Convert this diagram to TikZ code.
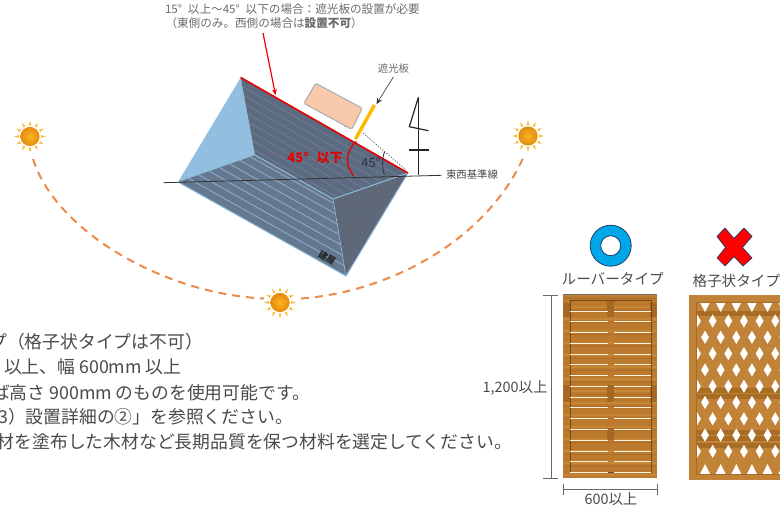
\documentclass[tikz,border=0pt]{standalone}
\usepackage{fontspec}
\setmainfont{Noto Sans CJK JP}
\usetikzlibrary{arrows.meta}
\definecolor{bodytxt}{HTML}{4A4A4A}
\definecolor{graytxt}{HTML}{6A6A6A}
\definecolor{hipblue}{HTML}{92BEDF}
\definecolor{edgeblue}{HTML}{8FBCDD}
\definecolor{topface}{HTML}{5D6B80}
\definecolor{topstripe}{HTML}{6F7E93}
\definecolor{botface}{HTML}{64788F}
\definecolor{botstripe}{HTML}{8FACC8}
\definecolor{rightface}{HTML}{5C6676}
\definecolor{rightstripe}{HTML}{667182}
\definecolor{arcorange}{HTML}{EB8A4A}
\definecolor{woodbase}{HTML}{BC7A2E}
\definecolor{woodlight}{HTML}{C58638}
\definecolor{wooddark}{HTML}{A0621F}
\definecolor{latbase}{HTML}{C08338}
\definecolor{latdark}{HTML}{A96C27}
\definecolor{slat}{HTML}{FBF3DC}
\definecolor{ringblue}{HTML}{00A7E8}
\definecolor{iconedge}{HTML}{1F3F6E}
\definecolor{dimgray}{HTML}{666666}
\definecolor{panelpeach}{HTML}{F9C9AB}
\definecolor{boardyellow}{HTML}{FFB800}
\definecolor{anglegray}{HTML}{2C323C}
\definecolor{suny}{HTML}{F7B521}
\definecolor{sund}{HTML}{E88A0C}
\tikzset{
  x=1pt,y=-1pt,
  tag/.style={inner sep=0pt,outer sep=0pt,text=graytxt},
  bodyline/.style={inner sep=0pt,outer sep=0pt,anchor=east,text=bodytxt,font=\fontsize{17.8}{20}\selectfont},
  small/.style={font=\fontsize{10.4}{12}\selectfont},
  note/.style={font=\fontsize{11.6}{13}\selectfont},
  dimtxt/.style={inner sep=0pt,outer sep=0pt,text=bodytxt,font=\fontsize{14.4}{16}\selectfont},
  typetxt/.style={inner sep=0pt,outer sep=0pt,text=bodytxt,font=\fontsize{14.6}{16}\selectfont},
  sunarc/.style={arcorange,line width=2pt,dash pattern=on 8pt off 6pt},
  dimline/.style={dimgray,line width=0.8pt},
  pics/sunicon/.style={code={
    \foreach \r in {0,30,...,330}{
      \fill[suny!85!white,rotate=\r] (11.2,-1.5) -- (15.8,0) -- (11.2,1.5) -- cycle;
    }
    \shade[inner color=suny,outer color=sund,draw=none] (0,0) circle (9.6);
  }},
}
\begin{document}
\begin{tikzpicture}
\useasboundingbox (0,0) rectangle (780,509);
\clip (0,0) rectangle (780,509);
% named corners of the roof
\coordinate (A) at (240.7,77.5);
\coordinate (B) at (408,173);
\coordinate (C) at (346,276);
\coordinate (D) at (178,182);
\coordinate (E) at (255,155);
\coordinate (F) at (333,199);
% faces
\fill[hipblue] (A) -- (D) -- (E) -- cycle;
\begin{scope}
  \clip (A) -- (B) -- (F) -- (E) -- cycle;
  \fill[topface] (A) -- (B) -- (F) -- (E) -- cycle;
  \foreach \k in {0,...,18}{
    \draw[topstripe,line width=0.8pt] ({140-0.497*7*\k},{20+0.868*7*\k}) -- ++(400,228.7);
  }
\end{scope}
\begin{scope}
  \clip (D) -- (E) -- (F) -- (C) -- cycle;
  \fill[botface] (D) -- (E) -- (F) -- (C) -- cycle;
  \foreach \k in {1,...,12}{
    \draw[botstripe,line width=0.9pt] ({78+0.49*8.2*\k},{126-0.87*8.2*\k}) -- ++(400,223.8);
  }
\end{scope}
\begin{scope}
  \clip (B) -- (F) -- (C) -- cycle;
  \fill[rightface] (B) -- (F) -- (C) -- cycle;
  \foreach \k in {0,...,26}{
    \draw[rightstripe,line width=0.5pt] ({320+4*\k},{180}) -- ++(-60,110);
  }
\end{scope}
\draw[edgeblue,line width=1pt] (E) -- (F) -- (B);
\draw[edgeblue,line width=1pt] (D) -- (C) -- (B);
\draw[edgeblue,line width=0.8pt,opacity=.7] (F) -- (C);
% roof label
\node[inner sep=0pt,rotate=-30,text=black!85,font=\fontsize{9}{10}\selectfont\bfseries] (bldg) at (327,258) {建屋};
% horizon
\coordinate (hL) at (163.3,182.7);
\coordinate (hR) at (441.7,175.3);
\draw[black!80,line width=0.8pt] (hL) -- (hR);
% red eave and pointer
\draw[red!90!black,line width=1.6pt] (A) -- (B);
\coordinate (pS) at (263,33);
\coordinate (pE) at (275.5,95);
\draw[red!95!black,line width=1.2pt,-{Stealth[length=6pt,width=5pt]}] (pS) -- (pE);
% angle marks
\coordinate (dotS) at (363,133);
\draw[black!70,line width=0.6pt,dash pattern=on 1.4pt off 1.4pt] (dotS) -- (406,170);
\coordinate (r1) at (356.5,141.5);
\coordinate (r2) at (353.5,175.5);
\draw[red!90!black,line width=1.3pt] (r1) .. controls (345,151) and (345,166) .. (r2);
\coordinate (b1) at (384.5,152);
\coordinate (b2) at (384.5,175);
\draw[anglegray,line width=0.8pt] (b1) .. controls (382,158) and (382,168) .. (b2);
\node[inner sep=0pt,text=anglegray,font=\fontsize{13}{14}\selectfont] (deg) at (371,162.5) {45°};
\node[inner sep=0pt,text=red!90!black,font=\fontsize{13}{14}\selectfont\bfseries] (deglim) at (315,158) {45°\hspace{0.6em}以下};
% solar panel and shade board
\fill[black!40] (309,105) circle (1.8) (345.5,125.5) circle (1.8);
\draw[black!30,line width=1.2pt,fill=panelpeach,rounded corners=1.5pt] (315.7,83.3) -- (362.3,108.3) -- (351.7,129.3) -- (304,103.3) -- cycle;
\coordinate (yS) at (374.5,105);
\coordinate (yE) at (355.5,139);
\draw[boardyellow,line width=3.4pt] (yS) -- (yE);
\node[tag,small] (shade) at (393.5,69) {遮光板};
\coordinate (sE) at (376.5,104);
\draw[black!80,line width=0.6pt,-{Stealth[length=6pt,width=5.5pt]}] (shade.south) ++(0,3) coordinate (sS) (sS) -- (sE);
% pole
\coordinate (p1) at (418.5,97);
\coordinate (p2) at (418.5,175);
\coordinate (p3) at (409.3,126.7);
\coordinate (p4) at (428.5,130.7);
\coordinate (p5) at (409,150);
\coordinate (p6) at (428.5,150);
\draw[black!85,line width=1.2pt] (p1) -- (p2);
\draw[black!85,line width=1.2pt] (p1) -- (p3) -- (p4);
\draw[black!85,line width=1.2pt] (p5) -- (p6);
\node[tag,small,anchor=west,text=bodytxt] (ew) at (446,175) {東西基準線};
% top notes
\node[tag,note,anchor=west] (note1) at (165,9) {15°\hspace{0.5em}以上～45°\hspace{0.5em}以下の場合：遮光板の設置が必要};
\node[tag,note,anchor=west] (note2) at (165.5,23.5) {（東側のみ。西側の場合は\textbf{設置不可}）};
% sun path
\coordinate (s1) at (33,159);
\coordinate (s2) at (264,298.5);
\coordinate (s3) at (301,298.5);
\coordinate (s4) at (524,156);
\draw[sunarc] (s1) .. controls (56,232) and (165,294) .. (s2);
\draw[sunarc] (s3) .. controls (390,292) and (487,240) .. (s4);
\pic at (30,136.5) {sunicon};
\pic at (528,136) {sunicon};
\pic at (280,302.5) {sunicon};
% body text, cut by the left edge
\node[bodyline] (t1) at (203,341.5) {プ（格子状タイプは不可）};
\node[bodyline] (t2) at (181.5,367) {以上、幅 600mm 以上};
\node[bodyline] (t3) at (310,392.5) {ば高さ 900mm のものを使用可能です。};
\node[bodyline] (t4) at (293,417) {3）設置詳細の②」を参照ください。};
\node[bodyline] (t5) at (512,442) {材を塗布した木材など長期品質を保つ材料を選定してください。};
% louver panel
\fill[woodbase] (563.3,294) rectangle (656.7,478);
\begin{scope}
  \clip (563.3,294) rectangle (656.7,478);
  \foreach \k in {0,...,45}{
    \pgfmathsetmacro{\yy}{294+4*\k}
    \pgfmathtruncatemacro{\mm}{mod(\k,3)}
    \ifnum\mm=0 \fill[woodlight] (563,\yy) rectangle (657,\yy+1.5);
    \else\ifnum\mm=1 \fill[wooddark!55!woodbase] (563,\yy) rectangle (657,\yy+1);\fi\fi
  }
  \fill[wooddark!80!woodbase] (563.3,303) rectangle (570,317);
  \fill[wooddark!80!woodbase] (650,303) rectangle (656.7,317);
  \fill[wooddark!80!woodbase] (607,300) rectangle (614,317);
  \fill[wooddark!80!woodbase] (563.3,385) rectangle (570,402);
  \fill[wooddark!80!woodbase] (650,385) rectangle (656.7,402);
  \fill[wooddark!80!woodbase] (607,385) rectangle (614,402);
  \fill[wooddark!80!woodbase] (607,428) rectangle (614,440);
  \fill[black!60] (563.3,294) rectangle (656.7,295);
\end{scope}
\draw[black!25!wooddark,line width=0.4pt] (570,300.5) rectangle (651,472.5);
\foreach \k in {0,...,15}{
  \pgfmathsetmacro{\yy}{311+10.77*\k}
  \draw[slat,line width=1pt] (570,\yy) -- (607.5,\yy);
  \draw[slat,line width=1pt] (614,\yy) -- (651,\yy);
}
% lattice panel
\fill[latbase] (689,295) rectangle (790,480);
\foreach \yy in {311,388,394,430,436,443}{
  \fill[latdark] (696,\yy) rectangle (790,\yy+5);
}
\begin{scope}
  \clip (696,302) rectangle (790,474);
  \foreach \k in {0,...,8}{
    \pgfmathsetmacro{\yy}{321+16.3*\k}
    \pgfmathtruncatemacro{\mm}{mod(\k,2)}
    \foreach \i in {0,...,6}{
      \pgfmathsetmacro{\xx}{697+8*(1-\mm)*0+8*\mm+15.65*\i}
      \fill[white] (\xx-3.9,\yy) -- (\xx,\yy-6.6) -- (\xx+3.9,\yy) -- (\xx,\yy+6.6) -- cycle;
    }
  }
  \foreach \i in {0,...,5}{
    \pgfmathsetmacro{\xx}{705+15.65*\i}
    \fill[white] (\xx-5,302.5) -- (\xx+5,302.5) -- (\xx,312) -- cycle;
    \fill[white] (\xx-5,474) -- (\xx+5,474) -- (\xx,464) -- cycle;
  }
\end{scope}
\draw[latdark,line width=0.5pt] (696,302) -- (790,302) (696,302) -- (696,474) -- (790,474);
% dimension lines
\coordinate (v1) at (551,295.5);
\coordinate (v2) at (551,478.5);
\coordinate (v1a) at (543,295.5);
\coordinate (v1b) at (558,295.5);
\coordinate (v2a) at (543,478.5);
\coordinate (v2b) at (558,478.5);
\draw[dimline] (v1) -- (v2);
\draw[dimline] (v1a) -- (v1b);
\draw[dimline] (v2a) -- (v2b);
\coordinate (h1) at (563,489.5);
\coordinate (h2) at (657.5,489.5);
\coordinate (h1a) at (563,484);
\coordinate (h1b) at (563,495);
\coordinate (h2a) at (657.5,484);
\coordinate (h2b) at (657.5,495);
\draw[dimline] (h1) -- (h2);
\draw[dimline] (h1a) -- (h1b);
\draw[dimline] (h2a) -- (h2b);
\node[dimtxt,anchor=east] (d1200) at (547.5,388) {1,200以上};
\node[dimtxt] (d600) at (611,499.5) {600以上};
% type labels and marks
\node[typetxt] (louver) at (612.7,279) {ルーバータイプ};
\node[typetxt,anchor=west] (lattice) at (692.5,281) {格子状タイプ};
\draw[iconedge,line width=0.8pt,fill=ringblue,even odd rule] (610.7,245.7) circle (20.5) (610.7,245.7) circle (10);
\draw[iconedge,line width=0.7pt,fill=red,line join=round]
  (734,238.5) -- (744,228) -- (752,236.5) -- (742.5,247.5) -- (752,258) -- (743,266) -- (734,256.5) -- (725,266) -- (717,258) -- (725.5,247.5) -- (717,236.5) -- (725,228) -- cycle;
\end{tikzpicture}
\end{document}
